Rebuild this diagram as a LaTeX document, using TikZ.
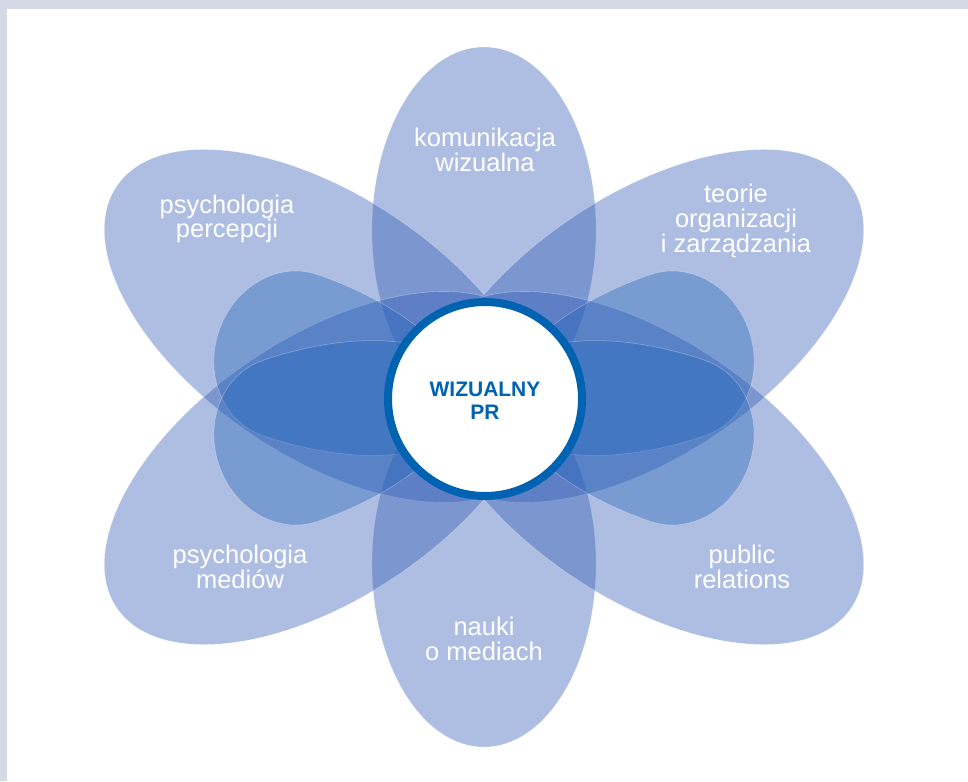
\documentclass[tikz,border=0pt]{standalone}
\usepackage{fontspec}
\setmainfont{Liberation Sans}
\definecolor{petalblue}{RGB}{50,92,182}
\definecolor{lobeblue}{RGB}{35,100,185}
\definecolor{ringblue}{RGB}{0,99,177}
\definecolor{framegray}{RGB}{211,218,229}
\tikzset{petal/.style={fill=petalblue,fill opacity=0.4,draw=white,draw opacity=0.3,line width=0.6pt},
	lobe/.style={fill=lobeblue,fill opacity=0.38,draw=white,draw opacity=0.3,line width=0.6pt},
	field/.style={text=white,align=center,font=\fontsize{25.5}{24.7}\selectfont},
	hub/.style={circle,fill=white,draw=ringblue,line width=8pt,minimum size=194pt,inner sep=0pt},
	hubtext/.style={text=ringblue,align=center,font=\fontsize{21}{22.7}\selectfont\bfseries}}

\begin{document}
\begin{tikzpicture}
  [x=1pt,y=-1pt]
  \useasboundingbox (0,0) rectangle (968,781);
  \fill[framegray] (0,0) rectangle (968,9);
  \fill[framegray] (0,9) rectangle (7,781);
  % outer petals
  \foreach \cy in {230,564}
    \path[petal] (484,\cy) ellipse [x radius=112pt,y radius=183pt];
  \foreach \cx/\cy/\tilt in {324/326/-34,644/326/34,324/468/34,644/468/-34}
    \path[petal,rotate around={\tilt:(\cx,\cy)}] (\cx,\cy) ellipse [x radius=250pt,y radius=130pt];
  % inner lobes, egg shaped
  \foreach \jx/\jy/\tilt in {290/355/-19,290/441/19,678/355/-161,678/441/161}
    \path[lobe,rotate around={\tilt:(\jx,\jy)}] (\jx,\jy) ++(0,-85)
      arc [start angle=90,end angle=270,x radius=75pt,y radius=85pt]
      arc [start angle=-90,end angle=90,x radius=185pt,y radius=85pt] -- cycle;
  \node[hub] (pr) at (485,399) {};
  \node[hubtext] (prtext) at (485,401) {WIZUALNY\\PR};
  \node[field] (komunikacja) at (485,150) {komunikacja\\wizualna};
  \node[field] (percepcja) at (227,219) {psychologia\\percepcji};
  \node[field] (teorie) at (736,221) {teorie\\organizacji\\i zarządzania};
  \node[field] (media) at (240,567) {psychologia\\mediów};
  \node[field] (relations) at (742,567) {public\\relations};
  \node[field] (nauki) at (484,639) {nauki\\o mediach};
\end{tikzpicture}
\end{document}
